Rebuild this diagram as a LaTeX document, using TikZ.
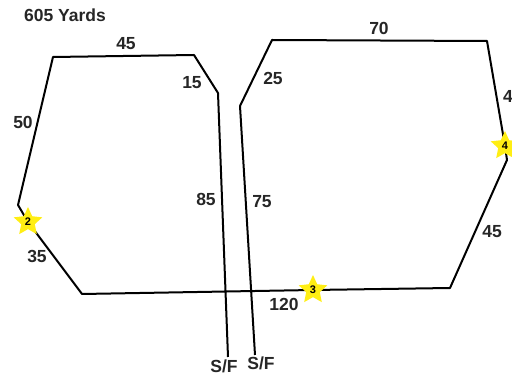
\documentclass[tikz,border=0pt]{standalone}
\usepackage{fontspec}
\setmainfont{Liberation Sans}
\usetikzlibrary{shapes.geometric}
\definecolor{staryellow}{RGB}{255,238,20}
\begin{document}
\begin{tikzpicture}[x=1pt,y=-1pt,
  course/.style={line width=2pt,line join=round,black},
  lbl/.style={font=\fontsize{17.5}{17.5}\selectfont\bfseries,inner sep=0pt,text=black!85},
  hole/.style={star,star points=5,star point ratio=2.1,minimum size=30pt,inner sep=0pt,
     fill=staryellow,draw=none,font=\fontsize{11}{11}\selectfont\bfseries}]
\useasboundingbox (0,0) rectangle (512,379);
% corner coordinates
\coordinate (sfL) at (228,357);
\coordinate (a1) at (218,93);
\coordinate (a2) at (194,55);
\coordinate (a3) at (53,57);
\coordinate (a4) at (18,205);
\coordinate (p2) at (28,222);
\coordinate (a5) at (82,294);
\coordinate (p3) at (313,290);
\coordinate (a6) at (450,288);
\coordinate (a7) at (507,160);
\coordinate (p4) at (505,146);
\coordinate (a8) at (487,41);
\coordinate (a9) at (272,40);
\coordinate (a10) at (240,106);
\coordinate (sfR) at (255,355);
% course
\draw[course] (sfL) -- (a1) -- (a2) -- (a3) -- (a4) -- (p2) -- (a5) -- (p3) -- (a6) -- (a7) -- (p4) -- (a8) -- (a9) -- (a10) -- (sfR);
% stars
\node[hole] (s2) at (p2) {2};
\node[hole] (s3) at (p3) {3};
\node[hole] (s4) at (p4) {4};
% labels
\node[lbl] (title) at (65,15) {605 Yards};
\node[lbl] (l45a) at (126,44) {45};
\node[lbl] (l15) at (192,83) {15};
\node[lbl] (l50) at (23,122) {50};
\node[lbl] (l35) at (37,256) {35};
\node[lbl] (l85) at (206,199) {85};
\node[lbl] (l75) at (262,202) {75};
\node[lbl] (l25) at (273,78) {25};
\node[lbl] (l70) at (379,28) {70};
\node[lbl,anchor=west] (l4) at (503,96) {4};
\node[lbl] (l45b) at (492,232) {45};
\node[lbl] (l120) at (284,304) {120};
\node[lbl] (sf1) at (224,366) {S/F};
\node[lbl] (sf2) at (261,363) {S/F};
\end{tikzpicture}
\end{document}
